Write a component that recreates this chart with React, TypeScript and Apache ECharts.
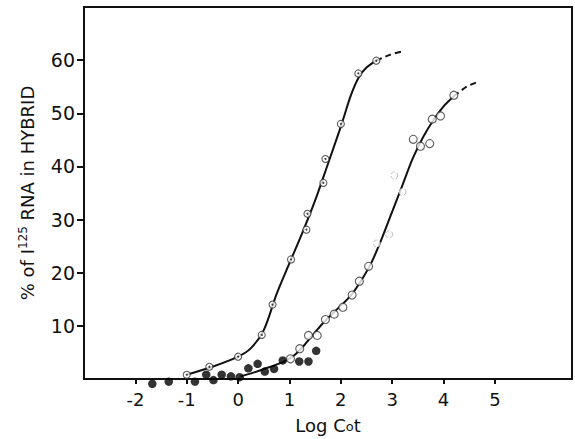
import { useEffect, useRef } from "react";
import * as echarts from "echarts";

const xTicks = [-2, -1, 0, 1, 2, 3, 4, 5];
const yTicks = [10, 20, 30, 40, 50, 60];

// dotted circles (⊙), fast-reassociating curve
const seriesA = [
  [-1.0, 0.8], [-0.56, 2.3], [0.0, 4.2], [0.46, 8.3], [0.67, 14.0], [1.03, 22.5],
  [1.33, 28.1], [1.35, 31.1], [1.66, 36.9], [1.7, 41.4], [2.0, 48.0], [2.34, 57.5], [2.69, 59.9],
];
// open circles, slow curve
const seriesB = [
  [1.02, 3.8], [1.2, 5.7], [1.37, 8.2], [1.54, 8.2], [1.7, 11.2], [1.87, 12.2], [2.04, 13.5],
  [2.22, 15.8], [2.36, 18.4], [2.54, 21.2], [3.41, 45.1], [3.55, 43.8], [3.73, 44.3],
  [3.78, 48.9], [3.94, 49.5], [4.2, 53.4],
];
// faint open circles
const seriesBFaint = [[2.7, 25.5], [2.94, 27.2], [3.04, 38.3], [3.2, 35.2]];
// filled dots
const seriesFilled = [
  [-1.67, -0.9], [-1.35, -0.5], [-0.84, -0.5], [-0.62, 0.8], [-0.48, -0.2], [-0.32, 0.8],
  [-0.14, 0.5], [0.03, 0.35], [0.2, 2.0], [0.38, 2.85], [0.52, 1.4], [0.7, 1.9], [0.87, 3.5],
  [1.19, 3.3], [1.37, 3.3], [1.52, 5.3],
];
// fitted curves
const fitA = [
  [-1.0, 0.8], [-0.5, 2.3], [0.0, 4.2], [0.25, 5.8], [0.5, 9.2], [0.75, 16.0], [1.0, 21.8],
  [1.25, 27.5], [1.5, 33.6], [1.75, 40.5], [2.0, 47.5], [2.2, 53.5], [2.35, 56.8], [2.5, 58.6], [2.69, 59.9],
];
const fitATail = [[2.69, 59.9], [2.95, 61.0], [3.18, 61.6]];
const fitB = [
  [0.05, 0.5], [0.3, 1.2], [0.6, 2.2], [0.9, 3.3], [1.1, 4.5], [1.3, 6.5], [1.5, 8.8], [1.7, 11.0],
  [2.0, 13.8], [2.2, 15.8], [2.4, 18.6], [2.6, 22.0], [2.8, 26.5], [3.0, 31.5], [3.2, 36.5],
  [3.4, 41.5], [3.6, 45.5], [3.8, 48.7], [4.0, 51.3], [4.2, 53.2],
];
const fitBTail = [[4.2, 53.2], [4.45, 55.0], [4.69, 56.0]];

const FONT = "'DejaVu Sans', 'Liberation Sans', Arial, sans-serif";
const INK = "#111";

export default function App() {
  const ref = useRef<HTMLDivElement>(null);
  useEffect(() => {
    const chart = echarts.init(ref.current!, null, { renderer: "svg" });
    const lineBase = {
      type: "line",
      showSymbol: false,
      symbol: "none",
      smooth: 0.3,
      z: 2,
      silent: true,
    };
    chart.setOption({
      animation: false,
      backgroundColor: "#fff",
      grid: {
        left: 84,
        top: 7,
        right: 3,
        bottom: 59,
        show: true,
        borderColor: INK,
        borderWidth: 2,
        backgroundColor: "transparent",
      },
      xAxis: {
        type: "value",
        min: -3,
        max: 6.5,
        splitLine: { show: false },
        axisLine: { show: true, onZero: false, lineStyle: { color: INK, width: 2 } },
        axisTick: { show: true, customValues: xTicks, length: 5, lineStyle: { color: INK, width: 2 } },
        axisLabel: { customValues: xTicks, fontSize: 18, color: INK, margin: 11, fontFamily: FONT },
        name: "{a|Log C}{s|o}{a|t}",
        nameLocation: "middle",
        nameGap: 37,
        nameTextStyle: {
          rich: {
            a: { fontSize: 18, color: INK, fontFamily: FONT },
            s: { fontSize: 13, color: INK, fontFamily: FONT, padding: [3, 0, 0, 0] },
          },
        },
      },
      yAxis: {
        type: "value",
        min: 0,
        max: 70,
        splitLine: { show: false },
        axisLine: { show: true, onZero: false, lineStyle: { color: INK, width: 2 } },
        axisTick: { show: true, customValues: yTicks, length: 7, lineStyle: { color: INK, width: 2 } },
        axisLabel: { customValues: yTicks, fontSize: 19, color: INK, margin: 9, fontFamily: FONT },
        name: "{a|% of I}{s|125}{a| RNA in HYBRID}",
        nameLocation: "middle",
        nameGap: 47,
        nameTextStyle: {
          rich: {
            a: { fontSize: 18, color: INK, fontFamily: FONT },
            s: { fontSize: 12, color: INK, fontFamily: FONT, padding: [0, 0, 8, 0] },
          },
        },
      },
      series: [
        { ...lineBase, data: fitA, lineStyle: { color: INK, width: 2 } },
        { ...lineBase, data: fitATail, lineStyle: { color: INK, width: 2, type: [6, 4] } },
        { ...lineBase, data: fitB, lineStyle: { color: INK, width: 2 } },
        { ...lineBase, data: fitBTail, lineStyle: { color: INK, width: 2, type: [6, 4] } },
        {
          type: "scatter",
          data: seriesFilled,
          symbol: "circle",
          symbolSize: 8.5,
          clip: false,
          z: 4,
          itemStyle: { color: "#000" },
        },
        {
          type: "scatter",
          data: seriesB,
          symbol: "circle",
          symbolSize: 8,
          z: 4,
          itemStyle: { color: "#fff", borderColor: "#333", borderWidth: 1.1 },
        },
        {
          type: "scatter",
          data: seriesBFaint,
          symbol: "circle",
          symbolSize: 7,
          z: 4,
          itemStyle: { color: "#fff", borderColor: "#aaa", borderWidth: 1, borderType: "dashed" },
        },
        {
          type: "scatter",
          data: seriesA,
          symbol: "circle",
          symbolSize: 7,
          z: 4,
          itemStyle: { color: "#fff", borderColor: "#333", borderWidth: 1.1 },
        },
        {
          type: "scatter",
          data: seriesA,
          symbol: "circle",
          symbolSize: 2,
          z: 5,
          itemStyle: { color: INK },
        },
      ],
    });
    return () => chart.dispose();
  }, []);
  return (
    <div
      ref={ref}
      style={{ position: "fixed", left: 0, top: 0, width: 575, height: 439, background: "#fff" }}
    />
  );
}
